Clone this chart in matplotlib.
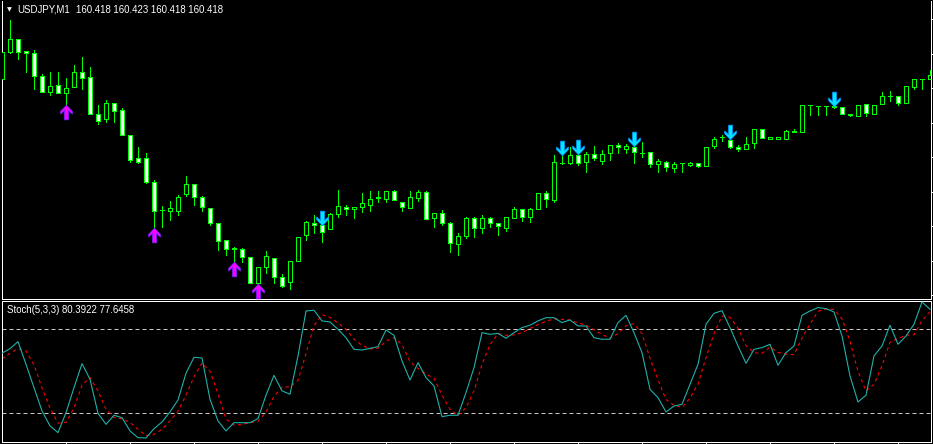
import numpy as np
import matplotlib.pyplot as plt
from matplotlib.path import Path

SYMBOL = "USDJPY,M1"
QUOTE = "160.418 160.423 160.418 160.418"
STOCH_LABEL = "Stoch(5,3,3) 80.3922 77.6458"

# prices are kept as points (0.001) above the base price
BASE_PRICE = 160.0
POINT = 0.001

open_pts = [410, 464, 490, 466, 462, 416, 384, 398, 382, 394, 424, 414, 340, 330, 362, 348,
            298, 252, 252, 204, 148, 146, 146, 180, 200, 174, 152, 122, 88, 70, 70, 54,
            2, 34, 52, 14, 4, 46, 98, 122, 118, 110, 140, 154, 150, 154, 158, 172,
            170, 186, 164, 152, 172, 184, 132, 142, 122, 80, 96, 132, 112, 132, 122, 112,
            132, 150, 134, 150, 182, 168, 242, 242, 258, 244, 260, 246, 262, 278, 270, 274,
            262, 264, 240, 244, 232, 242, 238, 242, 236, 276, 294, 288, 274, 270, 282, 310,
            290, 290, 290, 304, 304, 358, 356, 356, 354, 354, 340, 336, 360, 340, 360, 376,
            376, 362, 394, 410, 410]
high_pts = [466, 528, 490, 466, 468, 420, 424, 424, 412, 438, 454, 434, 358, 368, 362, 352,
            298, 274, 262, 208, 156, 166, 178, 216, 200, 176, 152, 122, 88, 74, 72, 54,
            34, 66, 52, 20, 46, 94, 126, 138, 118, 142, 188, 158, 154, 182, 186, 186,
            186, 188, 164, 186, 188, 186, 142, 148, 124, 102, 134, 134, 138, 134, 122, 134,
            154, 150, 152, 182, 186, 258, 258, 274, 260, 264, 276, 268, 278, 282, 280, 276,
            284, 264, 250, 246, 244, 242, 244, 242, 274, 294, 298, 290, 278, 294, 310, 310,
            294, 294, 308, 310, 358, 358, 356, 356, 356, 354, 340, 358, 360, 358, 384, 386,
            376, 396, 410, 410, 428]
low_pts = [394, 462, 450, 424, 390, 384, 378, 382, 358, 394, 390, 340, 320, 324, 324, 298,
           244, 242, 202, 112, 114, 128, 138, 176, 158, 146, 118, 68, 58, 44, 44, 2,
           0, 22, 2, -6, -10, 46, 88, 102, 84, 110, 134, 138, 132, 144, 146, 164,
           164, 168, 146, 152, 166, 130, 114, 118, 64, 58, 92, 94, 102, 114, 98, 106,
           132, 126, 124, 150, 154, 164, 240, 240, 238, 224, 248, 240, 248, 262, 262, 242,
           254, 234, 224, 226, 224, 224, 236, 234, 236, 272, 286, 272, 266, 270, 272, 292,
           290, 290, 290, 304, 304, 338, 338, 338, 352, 340, 336, 336, 336, 340, 360, 366,
           358, 362, 390, 390, 410]
close_pts = [464, 490, 464, 462, 416, 384, 396, 382, 392, 424, 412, 340, 326, 362, 346, 298,
             248, 244, 204, 146, 148, 152, 174, 200, 174, 154, 122, 86, 70, 72, 54, 2,
             34, 56, 14, -4, 46, 94, 124, 118, 104, 140, 156, 150, 154, 162, 170, 174,
             186, 168, 154, 174, 184, 130, 142, 122, 82, 96, 132, 112, 132, 122, 116, 134,
             150, 134, 150, 182, 170, 244, 242, 258, 242, 260, 252, 260, 278, 274, 276, 264,
             262, 240, 246, 234, 240, 242, 242, 236, 274, 290, 294, 274, 270, 280, 310, 292,
             294, 294, 306, 306, 358, 358, 356, 356, 356, 340, 338, 358, 342, 358, 376, 376,
             362, 396, 410, 410, 418]

buy_bars = [8, 19, 29, 32]
sell_bars = [40, 70, 72, 79, 91, 104]

stoch_k = [62.9, 66.2, 71.2, 55.0, 38.3, 21.7, 11.0, 6.2, 20.5, 38.3, 55.5, 44.3, 20.0, 12.1,
           18.6, 16.9, 7.4, 2.6, 2.4, 9.0, 13.8, 21.0, 29.5, 48.6, 60.0, 59.5, 30.0, 14.5,
           7.4, 13.3, 13.3, 13.3, 16.2, 32.9, 47.1, 36.0, 33.6, 61.0, 93.1, 93.6,
           86.0, 85.2, 80.0, 74.0, 65.7, 65.2, 66.4, 67.6, 79.5, 75.7, 57.4, 43.8, 56.2, 45.5,
           39.5, 17.6, 18.6, 18.6, 34.8, 52.6, 77.6, 76.4, 77.1, 73.6, 77.6, 81.2, 82.9, 86.0,
           88.3, 88.3, 84.8, 86.7, 82.4, 82.4, 74.0, 72.9, 72.9, 84.8,
           90.0, 77.6, 63.3, 37.1, 31.2, 21.0, 25.2, 26.4, 40.7, 55.0, 83.6, 91.4, 93.3, 81.2,
           68.1, 55.7, 65.7, 66.9, 69.3, 54.3, 63.3, 68.1, 90.0, 93.1, 95.5, 94.8, 92.4, 75.2,
           46.7, 28.1, 32.9, 61.0, 68.1, 82.9, 69.3, 75.2, 83.6, 99.5, 94.3]
stoch_d = [59.0, 62.9, 66.2, 64.5, 54.5, 38.3, 23.7, 13.0, 13.5, 24.0, 40.0, 45.5, 36.0, 23.0,
           17.0, 16.0, 13.5, 8.5, 4.0, 5.0, 8.5, 14.6, 21.4, 33.0, 46.0, 56.0, 50.0, 34.0,
           16.0, 11.5, 12.0, 13.3, 14.3, 20.8, 32.1, 38.7, 38.9, 43.5, 62.6, 82.6,
           90.5, 88.5, 84.5, 80.0, 73.0, 68.5, 66.0, 66.4, 71.5, 74.0, 69.0, 57.0, 52.0, 48.0,
           45.0, 33.0, 23.0, 18.3, 24.0, 36.0, 55.0, 69.0, 77.0, 75.7, 76.0, 77.5, 80.6, 83.4,
           85.7, 87.5, 87.1, 86.6, 84.6, 83.0, 79.6, 76.4, 73.5, 76.9,
           82.6, 84.0, 77.0, 59.3, 44.0, 29.8, 25.8, 24.2, 30.8, 41.0, 59.8, 77.0, 89.4, 88.6,
           80.9, 68.3, 63.2, 62.8, 67.3, 63.5, 62.3, 61.9, 73.8, 83.7, 92.9, 94.5, 94.2, 87.5,
           71.4, 50.0, 35.9, 40.7, 54.0, 70.7, 73.4, 75.8, 76.0, 86.1, 92.5]
stoch_levels = [20, 80]

W, H = 933, 444
PX = 0.72          # one pixel in points at 100 dpi
BAR_PX = 8         # bar spacing in pixels
PRICE_PX = 0.002   # price per pixel in main window
GREEN = "#00FF00"


def px_box(x0, y0, x1, y1):
    return [x0 / W, 1 - y1 / H, (x1 - x0) / W, (y1 - y0) / H]


def arrow_path(up=True):
    # wingdings-like arrow: chevron head on a thick shaft
    v = [(0, 1), (0.8, 0.15), (0.8, -0.2), (0.26, 0.3), (0.26, -1),
         (-0.26, -1), (-0.26, 0.3), (-0.8, -0.2), (-0.8, 0.15), (0, 1)]
    if not up:
        v = [(a, -b) for a, b in v]
    codes = [Path.MOVETO] + [Path.LINETO] * (len(v) - 2) + [Path.CLOSEPOLY]
    return Path(v, codes)


def style_axes(ax):
    ax.set_facecolor("black")
    for s in ax.spines.values():
        s.set_color("white")
        s.set_linewidth(PX)
    ax.tick_params(colors="white", width=PX, length=3, direction="out",
                   labelbottom=False, labelleft=False, labelright=False)


o = BASE_PRICE + np.array(open_pts) * POINT
h = BASE_PRICE + np.array(high_pts) * POINT
l = BASE_PRICE + np.array(low_pts) * POINT
c = BASE_PRICE + np.array(close_pts) * POINT
x = np.arange(len(o))

x_lo = (1.5 - 2) / BAR_PX
x_hi = (930.5 - 2) / BAR_PX

fig = plt.figure(figsize=(W / 100, H / 100), dpi=100, facecolor="black")

# --- price window ---
ax = fig.add_axes(px_box(1.5, 0.5, 930.5, 298.5))
style_axes(ax)
ax.spines["top"].set_visible(False)
bull = c >= o
ax.vlines(x, l, h, color=GREEN, lw=PX, antialiased=False, zorder=2)
ax.bar(x, np.abs(c - o), bottom=np.minimum(o, c), width=0.5,
       color=np.where(bull, "black", "white"), edgecolor=GREEN,
       linewidth=PX, antialiased=False, zorder=3)
gap = 7 * PRICE_PX
ax.plot(x[buy_bars], l[buy_bars] - gap, ls="none", marker=arrow_path(True), ms=10.5,
        mfc="#FF00FF", mec="#8020FF", mew=0.6, zorder=4)
ax.plot(x[sell_bars], h[sell_bars] + gap, ls="none", marker=arrow_path(False), ms=10.5,
        mfc="#00E8FF", mec="#0098FF", mew=0.6, zorder=4)
ax.set_xlim(x_lo, x_hi)
ax.set_ylim(BASE_PRICE + 0.568 - 298.5 * PRICE_PX, BASE_PRICE + 0.568 - 0.5 * PRICE_PX)
ax.set_xticks([])
ax.yaxis.tick_right()
ax.set_yticks(BASE_PRICE + 0.392 + 0.069 * np.arange(-6, 3))
ax.tick_params(axis="y", length=2)

# --- stochastic window ---
ax2 = fig.add_axes(px_box(1.5, 300.5, 930.5, 441.5))
style_axes(ax2)
for lev in stoch_levels:
    ax2.axhline(lev, color="#C8C8C8", lw=PX, ls=(0, (4, 3)), zorder=1)
ax2.plot(x, stoch_k, color="#20B2AA", lw=PX * 1.1, zorder=3)
ax2.plot(x, stoch_d, color="#FF0000", lw=PX * 1.1, ls=(0, (3, 3)), zorder=2)
ax2.set_xlim(x_lo, x_hi)
ax2.set_ylim((441.3 - 441.5) / 1.4, (441.3 - 300.5) / 1.4)
ax2.set_xticks(np.arange(8, 117, 8))
ax2.set_yticks([])

font = dict(family=["Liberation Sans", "DejaVu Sans"], color="white", fontsize=6.9)
fig.text(9 / W, 1 - 10 / H, "\u25bc", ha="center", va="center",
         family="DejaVu Sans", color="white", fontsize=4.5)
fig.text(17 / W, 1 - 10 / H, SYMBOL, ha="left", va="center", **font)
fig.text(76 / W, 1 - 10 / H, QUOTE, ha="left", va="center", **font)
fig.text(7 / W, 1 - 309.5 / H, STOCH_LABEL, ha="left", va="center", **font)

plt.savefig("out.png", dpi=100, facecolor="black")
